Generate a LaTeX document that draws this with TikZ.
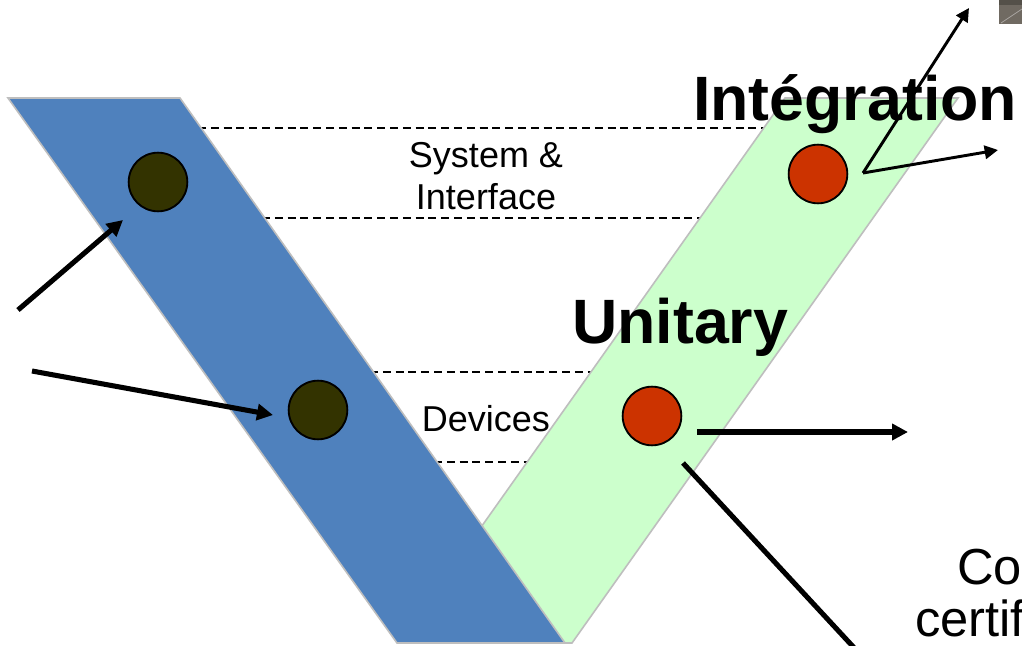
\documentclass[tikz,border=0pt]{standalone}
\usepackage{fontspec}
\setmainfont{Liberation Sans}
\usetikzlibrary{arrows.meta}
\definecolor{vblue}{RGB}{79,129,189}
\definecolor{vgreen}{RGB}{204,255,204}
\definecolor{vedge}{RGB}{190,190,190}
\definecolor{olivedot}{RGB}{51,51,0}
\definecolor{rustdot}{RGB}{204,51,0}
\definecolor{photo}{RGB}{112,106,98}

\begin{document}
\begin{tikzpicture}[x=0.75pt,y=-0.75pt,
  band/.style={draw=vedge, line width=1.2pt, line join=miter},
  dot/.style={circle, draw=black, line width=1.4pt, minimum size=44pt, inner sep=0pt},
  level/.style={dash pattern=on 6pt off 3.6pt, line width=1pt},
  label/.style={font=\fontsize{27}{32}\selectfont, anchor=base, inner sep=0pt},
  phase/.style={font=\fontsize{47}{56}\selectfont\bfseries, anchor=base west, inner sep=0pt},
  note/.style={font=\fontsize{38}{45}\selectfont, anchor=base west, inner sep=0pt},
  heavy/.style={line width=3.8pt, -{Triangle[length=12pt,width=12pt]}},
  light/.style={line width=2.2pt, -{Triangle[length=10pt,width=10pt]}},
  plain/.style={line width=3.8pt},
]
\useasboundingbox (0,0) rectangle (1022,646);
\clip (0,0) rectangle (1022,646);
\fill[white] (0,0) rectangle (1022,646);

% level guides between the two branches
\coordinate (g1a) at (198,128); \coordinate (g1b) at (768,128);
\coordinate (g2a) at (262,218); \coordinate (g2b) at (704,218);
\coordinate (g3a) at (370,372); \coordinate (g3b) at (594,372);
\coordinate (g4a) at (434,462); \coordinate (g4b) at (531,462);
\draw[level] (g1a) -- (g1b);
\draw[level] (g2a) -- (g2b);
\draw[level] (g3a) -- (g3b);
\draw[level] (g4a) -- (g4b);

% the two branches of the V
\draw[band, fill=vgreen] (785,98) -- (958,98) -- (572,643) -- (399,643) -- cycle;
\draw[band, fill=vblue] (8,98) -- (180,98) -- (565,643) -- (397,643) -- cycle;

% level names
\node[label] (sys) at (486,167) {System \&};
\node[label] (itf) at (486,209) {Interface};
\node[label] (dev) at (486,431) {Devices};

% phase titles
\node[phase] (integ) at (693,120) {Intégration};
\node[phase] (unit) at (572,343) {Unitary};

% side note
\node[note] (co) at (957,584) {Co};
\node[note] (cert) at (915,636) {certif};

% corner picture
\fill[photo] (999,0) rectangle (1022,24);
\fill[photo!75!black] (999,0) rectangle (1022,5);
\draw[photo!60!white, line width=0.6pt] (1001,23) -- (1022,9);

% milestones
\node[dot, fill=olivedot] (d1) at (158,182) {};
\node[dot, fill=olivedot] (d2) at (318,410) {};
\node[dot, fill=rustdot] (r1) at (818,174) {};
\node[dot, fill=rustdot] (r2) at (652,416) {};

% arrows
\coordinate (a1s) at (18,310);  \coordinate (a1e) at (123,220);
\coordinate (a2s) at (32,371);  \coordinate (a2e) at (273,415);
\coordinate (h1s) at (697,432); \coordinate (h1e) at (908,432);
\coordinate (l1s) at (683,463); \coordinate (l1e) at (858,652);
\coordinate (t0) at (863,173);  \coordinate (t1) at (969,8);
\coordinate (t2) at (998,150);
\draw[heavy] (a1s) -- (a1e);
\draw[heavy] (a2s) -- (a2e);
\draw[heavy] (h1s) -- (h1e);
\draw[plain] (l1s) -- (l1e);
\draw[light] (t0) -- (t1);
\draw[light] (t0) -- (t2);
\end{tikzpicture}
\end{document}
